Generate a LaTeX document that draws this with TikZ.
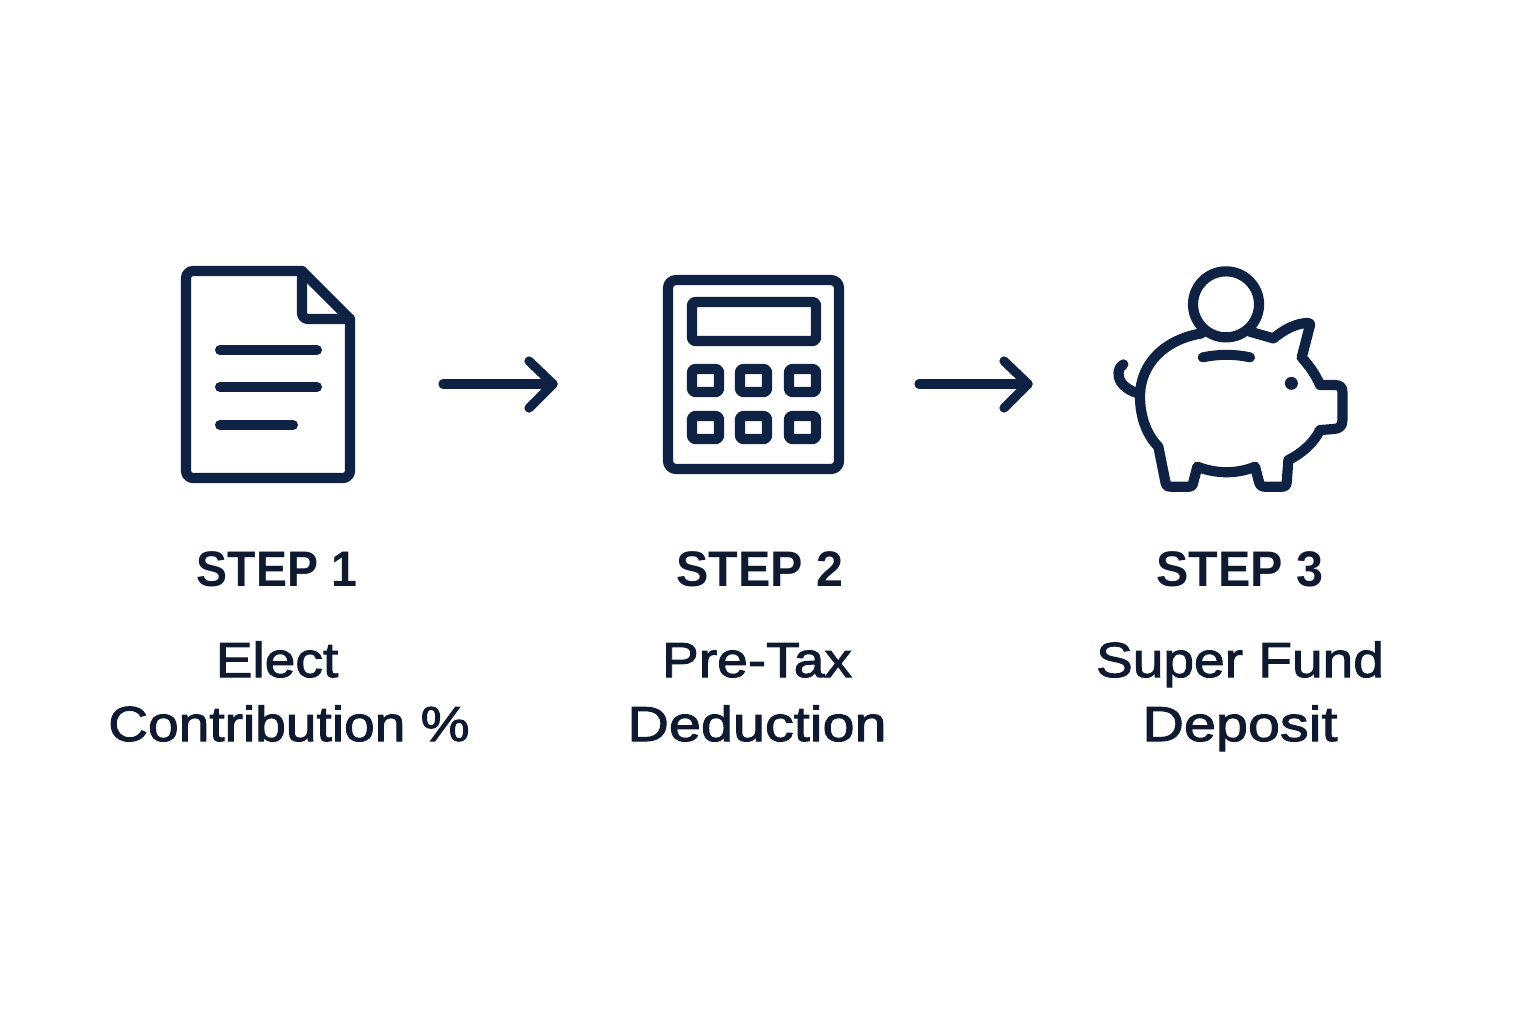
\documentclass[tikz,border=0pt]{standalone}
\usepackage{fontspec}
\setmainfont{Liberation Sans}
\newfontfamily\stepfont[FakeStretch=0.93]{Liberation Sans Bold}
\newfontfamily\stepwidefont[FakeStretch=0.97]{Liberation Sans Bold}
\newfontfamily\labfont[FakeStretch=1.12,FakeBold=2]{Liberation Sans}
\newfontfamily\labwidefont[FakeStretch=1.17,FakeBold=2]{Liberation Sans}
\definecolor{navy}{HTML}{0F2244}
\definecolor{ink}{HTML}{0F1A30}
\tikzset{
  icon/.style={draw=navy,line width=5.1pt,line join=round,line cap=round},
  thinbar/.style={draw=navy,line width=5pt,line cap=round},
  flowarrow/.style={draw=navy,line width=4.6pt,line cap=round,line join=round},
  steplabel/.style={anchor=base,text=ink,inner sep=0pt,font=\stepfont\fontsize{25}{28}\selectfont},
  stepwide/.style={anchor=base,text=ink,inner sep=0pt,font=\stepwidefont\fontsize{25}{28}\selectfont},
  bodylabel/.style={anchor=base,text=ink,inner sep=0pt,font=\labfont\fontsize{24.6}{30}\selectfont},
  bodywide/.style={anchor=base,text=ink,inner sep=0pt,font=\labwidefont\fontsize{24.6}{30}\selectfont}
}
\begin{document}
\begin{tikzpicture}[x=0.5pt,y=-0.5pt]
\useasboundingbox (0,0) rectangle (1536,1024);
\fill[white] (0,0) rectangle (1536,1024);
% document icon
\draw[icon,rounded corners=3.5pt] (302,271) -- (186,271) -- (186,478) -- (350,478) -- (350,319);
\draw[icon] (302,271) -- (350,319);
\draw[icon,rounded corners=3pt] (302,271) -- (302,319) -- (350,319);
\draw[thinbar] (220,350) -- (317,350);
\draw[thinbar] (220,387) -- (317,387);
\draw[thinbar] (220,425) -- (293,425);
% calculator icon
\draw[icon,rounded corners=4pt] (668,280) rectangle (839,469);
\draw[icon,rounded corners=1.5pt] (692,302) rectangle (816,341);
\foreach \xa/\xb in {692/719,740/767,789/816}
  \foreach \ya/\yb in {369/392,416/439}
    \draw[icon,rounded corners=1.5pt] (\xa,\ya) rectangle (\xb,\yb);
% piggy bank icon
\begin{scope}[shift={(1090,250)},x=0.1667pt,y=-0.1667pt]
\draw[icon]
  (335,250) .. controls (225,268) and (150,340) .. (150,440)
  .. controls (150,500) and (170,555) .. (205,590)
  -- (226,695) .. controls (228,708) and (232,710) .. (245,710)
  -- (295,710) .. controls (305,710) and (308,706) .. (310,696)
  -- (322,650) .. controls (380,672) and (440,672) .. (495,650)
  -- (507,696) .. controls (510,706) and (514,710) .. (525,710)
  -- (575,710) .. controls (585,710) and (590,706) .. (590,696)
  -- (595,630) .. controls (635,610) and (670,580) .. (690,540)
  -- (730,537) .. controls (748,536) and (757,528) .. (757,512)
  -- (757,425) .. controls (757,412) and (750,405) .. (735,405)
  -- (690,405) .. controls (675,370) and (655,345) .. (635,322)
  -- (660,225) .. controls (662,218) and (650,218) .. (640,220)
  .. controls (605,225) and (575,245) .. (550,265)
  -- (480,245);
\draw[icon] (100,343) .. controls (82,352) and (82,380) .. (92,395)
  .. controls (102,412) and (125,425) .. (145,430);
\draw[thinbar] (338,322) .. controls (385,312) and (435,312) .. (480,322);
\fill[navy] (604,400) circle [radius=19.5];
\draw[icon] (408,163) circle [radius=99];
\end{scope}
% arrows
\coordinate (a1s) at (443,384); \coordinate (a1e) at (553,384);
\coordinate (a1u) at (529,361); \coordinate (a1d) at (529,408);
\coordinate (a2s) at (919,384); \coordinate (a2e) at (1028,384);
\coordinate (a2u) at (1004,361); \coordinate (a2d) at (1004,408);
\draw[flowarrow] (a1s) -- (a1e);
\draw[flowarrow] (a1u) -- (a1e) -- (a1d);
\draw[flowarrow] (a2s) -- (a2e);
\draw[flowarrow] (a2u) -- (a2e) -- (a2d);
% text
\node[steplabel] (s1) at (277,586.5) {STEP 1};
\node[stepwide] (s2) at (760,586.5) {STEP 2};
\node[stepwide] (s3) at (1240,586.5) {STEP 3};
\node[bodylabel] (b1a) at (277,677) {Elect};
\node[bodylabel] (b1b) at (289,741) {Contribution \%};
\node[bodylabel] (b2a) at (757,677) {Pre-Tax};
\node[bodywide] (b2b) at (757,741) {Deduction};
\node[bodylabel] (b3a) at (1240,677) {Super Fund};
\node[bodywide] (b3b) at (1240,741) {Deposit};
\end{tikzpicture}
\end{document}
